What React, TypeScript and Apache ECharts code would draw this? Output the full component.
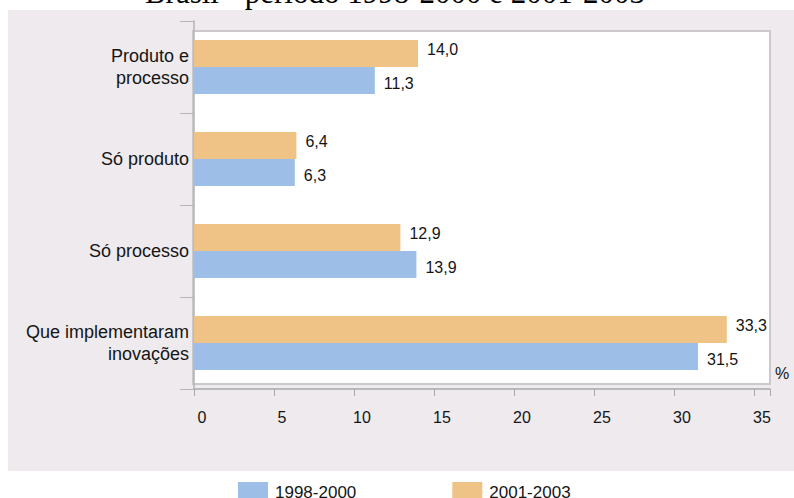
import React, { useEffect, useRef } from "react";
import * as echarts from "echarts";

const categories = ["Que implementaram\ninovações", "Só processo", "Só produto", "Produto e\nprocesso"];
const series1998 = [31.5, 13.9, 6.3, 11.3];
const series2001 = [33.3, 12.9, 6.4, 14.0];
const seriesNames = ["1998-2000", "2001-2003"];
const xTicks = [0, 5, 10, 15, 20, 25, 30, 35];
const titleText = "Brasil - período 1998-2000 e 2001-2003";

const BLUE = "#9DBEE6";
const ORANGE = "#EFC385";
const SANS = "Liberation Sans, Arial, Helvetica, sans-serif";

const fmt = (v: number) => v.toFixed(1).replace(".", ",");

export default function App() {
  const ref = useRef<HTMLDivElement>(null);
  useEffect(() => {
    if (!ref.current) return;
    const chart = echarts.init(ref.current, undefined, { renderer: "svg" });
    const labelCommon = {
      show: true,
      position: "right" as const,
      distance: 9,
      fontSize: 16,
      fontFamily: SANS,
      color: "#151515",
      formatter: (p: any) => fmt(p.value),
    };
    chart.setOption({
      animation: false,
      backgroundColor: "#ffffff",
      graphic: [
        { type: "rect", z: -10, shape: { x: 8, y: 10, width: 786, height: 461 }, style: { fill: "#EEEAEE" } },
        {
          type: "rect",
          z: -9,
          shape: { x: 193, y: 31, width: 577, height: 353 },
          style: { fill: "#ffffff", stroke: "#CBC9CB", lineWidth: 2 },
        },
        {
          type: "text",
          x: 395,
          y: -8,
          style: {
            text: titleText,
            fontFamily: "Liberation Serif, Times New Roman, serif",
            fontSize: 31,
            fill: "#000",
            textAlign: "center",
            textVerticalAlign: "middle",
          },
        },
        {
          type: "text",
          x: 782,
          y: 373,
          style: { text: "%", fontFamily: SANS, fontSize: 16, fill: "#151515", textAlign: "center", textVerticalAlign: "middle" },
        },
      ],
      legend: {
        data: seriesNames,
        left: 233,
        top: 477,
        itemWidth: 30,
        itemHeight: 21,
        itemGap: 96,
        icon: "rect",
        textStyle: { fontSize: 17, fontFamily: SANS, color: "#151515", padding: [0, 0, 0, 2] },
      },
      grid: { left: 194, top: 21, width: 576, height: 368, containLabel: false },
      xAxis: {
        type: "value",
        min: 0,
        max: 36,
        interval: 5,
        splitLine: { show: false },
        axisLine: { show: true, lineStyle: { color: "#A9A9A9", width: 1.5 } },
        axisTick: { show: true, length: 7, lineStyle: { color: "#A9A9A9" } },
        axisLabel: {
          margin: 20,
          fontSize: 16,
          fontFamily: SANS,
          color: "#151515",
          padding: [0, 0, 0, 16],
          formatter: (v: number) => (xTicks.includes(v) ? String(v) : ""),
        },
      },
      yAxis: {
        type: "category",
        data: categories,
        axisLine: { show: true, lineStyle: { color: "#B5B5B5", width: 1.5 } },
        axisTick: { show: true, length: 14, lineStyle: { color: "#B5B5B5" } },
        axisLabel: {
          margin: 5,
          fontSize: 18,
          lineHeight: 22,
          fontFamily: SANS,
          color: "#151515",
          align: "right",
        },
      },
      series: [
        {
          name: seriesNames[1],
          type: "bar",
          data: series2001,
          barWidth: 27,
          barGap: "0%",
          itemStyle: { color: ORANGE },
          label: { ...labelCommon, offset: [0, -4] },
        },
        {
          name: seriesNames[0],
          type: "bar",
          data: series1998,
          barWidth: 27,
          barGap: "0%",
          itemStyle: { color: BLUE },
          label: { ...labelCommon, offset: [0, 3] },
        },
      ],
    });
    return () => chart.dispose();
  }, []);
  return <div ref={ref} style={{ position: "fixed", left: 0, top: 0, width: 794, height: 498 }} />;
}
